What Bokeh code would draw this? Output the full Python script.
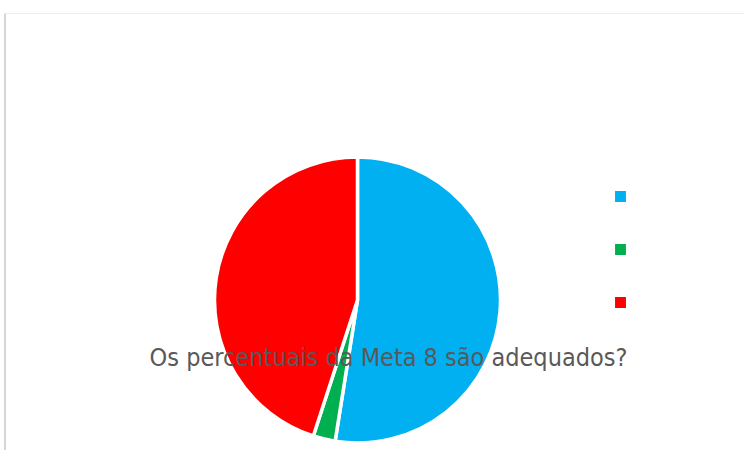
import math
from bokeh.plotting import figure
from bokeh.models import Range1d, ColumnDataSource, Legend, LegendItem
from bokeh.core.properties import value
from bokeh.embed import file_html
from bokeh.resources import INLINE

# data
categories = ["A", "B", "C"]
counts = [21, 1, 18]
colors = ["#00B0F0", "#00B050", "#FF0000"]
title_text = "Os percentuais da Meta 8 são adequados?"

total = sum(counts)
starts, ends = [], []
cum = 0.0
for c in counts:
    starts.append(math.pi / 2 - 2 * math.pi * cum / total)
    cum += c
    ends.append(math.pi / 2 - 2 * math.pi * cum / total)

src = ColumnDataSource(dict(cat=categories, val=counts, color=colors,
                            start=starts, end=ends))

W, H = 744, 450
p = figure(width=W, height=H, output_backend="svg", toolbar_location=None,
           x_range=Range1d(0, W), y_range=Range1d(-H, 0),
           min_border=0)
p.axis.visible = False
p.grid.visible = False
p.outline_line_color = None
p.background_fill_color = "white"
p.border_fill_color = "white"

# frame lines of chart area
p.segment(x0=[4.5, 4.5], y0=[-13, -13], x1=[4.5, 760], y1=[-470, -13],
          line_color=["#d6d6d6", "#ececec"], line_width=[2, 1.2])

cx, cy, r = 357, -299.5, 143
wr = p.wedge(x=cx, y=cy, radius=r, start_angle="start", end_angle="end",
             direction="clock", fill_color="color", line_color="white",
             line_width=3.5, source=src)

items = [LegendItem(label=value(" "), renderers=[wr], index=i) for i in range(len(counts))]
legend = Legend(items=items, location=(611, 139), orientation="vertical",
                glyph_width=18, glyph_height=18, label_height=18,
                label_text_font_size="1px", spacing=35, padding=0, margin=0,
                border_line_alpha=0, background_fill_alpha=0, label_standoff=0,
                label_width=1)
p.add_layout(legend, "center")

p.text(x=[388], y=[-357], text=[title_text], text_align="center",
       text_baseline="alphabetic", text_color="#595959",
       text_font=value("'DejaVu Sans Condensed', sans-serif"),
       text_font_size="25px")

open("out.html", "w").write(file_html(p, INLINE))
